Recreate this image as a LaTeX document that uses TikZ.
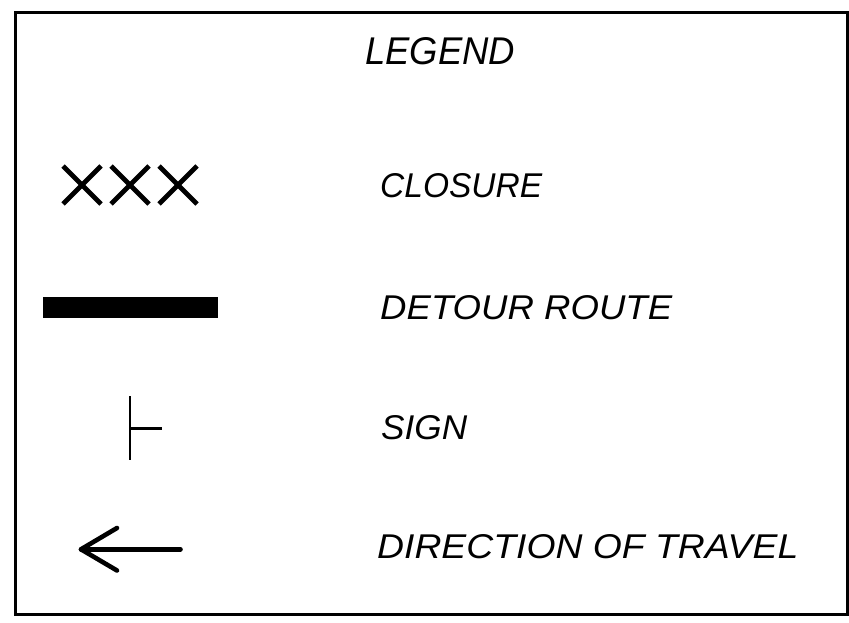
\documentclass[tikz,border=0pt]{standalone}
\usepackage{fontspec}
\setmainfont{Liberation Sans}
\usepackage{graphicx}
\newcommand\fitlabel[3]{\resizebox{#1pt}{#2pt}{\itshape #3}}
\begin{document}
\begin{tikzpicture}[x=1pt,y=-1pt,
  frame/.style={draw=black,line width=2.5pt},
  lbl/.style={inner sep=0pt,anchor=base west},
  xstroke/.style={line width=4.6pt,line cap=butt},
  signline/.style={line width=2.5pt},
  arrowline/.style={line width=4.6pt,line cap=round,line join=round},
  bar/.style={fill=black,draw=none}]
\useasboundingbox (0,0) rectangle (849,623);
\draw[frame] (15.5,12.3) rectangle (847.3,614.5);
% title
\node[lbl] (legend) at (365,65) {\fitlabel{150}{27}{LEGEND}};
% closure
\foreach \cx in {82,130,178}{
  \draw[xstroke] (\cx-19,166) -- (\cx+19,204);
  \draw[xstroke] (\cx-19,204) -- (\cx+19,166);
}
\node[lbl] (closure) at (380,197) {\fitlabel{162}{24}{CLOSURE}};
% detour route
\fill[bar] (43.3,296.8) rectangle (217.5,317.5);
\node[lbl] (detour) at (380,319) {\fitlabel{292}{24}{DETOUR ROUTE}};
% sign
\coordinate (s1) at (130,396);
\coordinate (s2) at (130,460);
\coordinate (s3) at (130,428.3);
\coordinate (s4) at (162.3,428.3);
\draw[signline] (s1) -- (s2);
\draw[signline] (s3) -- (s4);
\node[lbl] (sign) at (381,439) {\fitlabel{86}{24}{SIGN}};
% direction of travel
\coordinate (tip) at (81,549.3);
\coordinate (tail) at (180.5,549.3);
\coordinate (h1) at (117,528);
\coordinate (h2) at (117,570.5);
\draw[arrowline] (tail) -- (tip);
\draw[arrowline] (h1) -- (tip) -- (h2);
\node[lbl] (travel) at (377,558) {\fitlabel{421}{24}{DIRECTION OF TRAVEL}};
\end{tikzpicture}
\end{document}
